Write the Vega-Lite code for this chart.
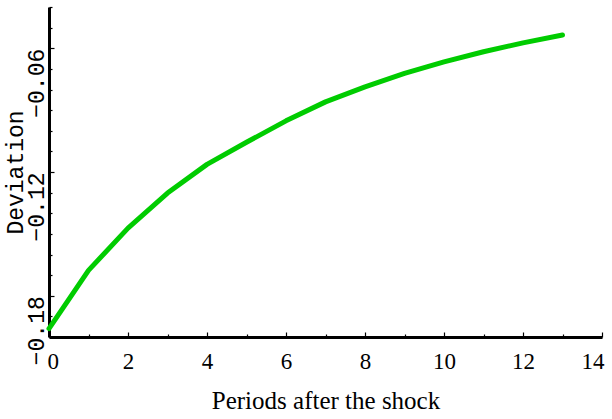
{
  "$schema": "https://vega.github.io/schema/vega-lite/v6.json",
  "width": 553,
  "height": 330,
  "autosize": "none",
  "padding": {"left": 49, "top": 7, "right": 10, "bottom": 82},
  "background": "white",
  "config": {"view": {"stroke": null}},
  "data": {
    "values": [
      {"period": 0, "deviation": -0.1959},
      {"period": 1, "deviation": -0.1677},
      {"period": 2, "deviation": -0.1472},
      {"period": 3, "deviation": -0.1302},
      {"period": 4, "deviation": -0.1163},
      {"period": 5, "deviation": -0.1056},
      {"period": 6, "deviation": -0.0952},
      {"period": 7, "deviation": -0.0860},
      {"period": 8, "deviation": -0.0787},
      {"period": 9, "deviation": -0.0722},
      {"period": 10, "deviation": -0.0666},
      {"period": 11, "deviation": -0.0617},
      {"period": 12, "deviation": -0.0574},
      {"period": 13, "deviation": -0.0536}
    ]
  },
  "mark": {"type": "line", "color": "#00cc00", "strokeWidth": 5, "strokeCap": "round", "strokeJoin": "round", "clip": false},
  "encoding": {
    "x": {
      "field": "period",
      "type": "quantitative",
      "scale": {"domain": [0, 14], "nice": false, "zero": false},
      "axis": {
        "title": "Periods after the shock",
        "values": [0, 1, 2, 3, 4, 5, 6, 7, 8, 9, 10, 11, 12, 13, 14],
        "labelExpr": "datum.value % 2 == 0 ? datum.label : ''",
        "grid": false,
        "domainColor": "black",
        "domainWidth": 3,
        "tickColor": "black",
        "tickWidth": 1.2,
        "tickSize": {"condition": {"test": "datum.value % 2 == 0", "value": -5}, "value": -3},
        "labelFont": "Liberation Serif",
        "labelFontSize": 23,
        "labelColor": "black",
        "labelPadding": 18,
        "labelBaseline": "top",
        "labelFlush": true,
        "labelFlushOffset": 2,
        "labelOverlap": false,
        "titleFont": "Liberation Serif",
        "titleFontSize": 25,
        "titleFontWeight": "normal",
        "titleColor": "black",
        "titlePadding": 13
      }
    },
    "y": {
      "field": "deviation",
      "type": "quantitative",
      "scale": {"domain": [-0.2, -0.04], "nice": false, "zero": false},
      "axis": {
        "title": "Deviation",
        "values": [-0.2, -0.19, -0.18, -0.17, -0.16, -0.15, -0.14, -0.13, -0.12, -0.11, -0.1, -0.09, -0.08, -0.07, -0.06, -0.05, -0.04],
        "format": ".2f",
        "labelExpr": "abs(round(datum.value * 100)) % 6 == 0 ? datum.label : ''",
        "grid": false,
        "domainColor": "black",
        "domainWidth": 3,
        "tickColor": "black",
        "tickWidth": 1.2,
        "tickSize": {"condition": {"test": "abs(round(datum.value * 100)) % 6 == 0", "value": -5}, "value": -3},
        "labelFont": "Liberation Mono",
        "labelFontSize": 23,
        "labelColor": "black",
        "labelAngle": -90,
        "labelAlign": "right",
        "labelBaseline": "alphabetic",
        "labelPadding": 11,
        "labelOverlap": false,
        "titleFont": "Liberation Mono",
        "titleFontSize": 23,
        "titleFontWeight": "normal",
        "titleColor": "black",
        "titlePadding": -4
      }
    }
  }
}
